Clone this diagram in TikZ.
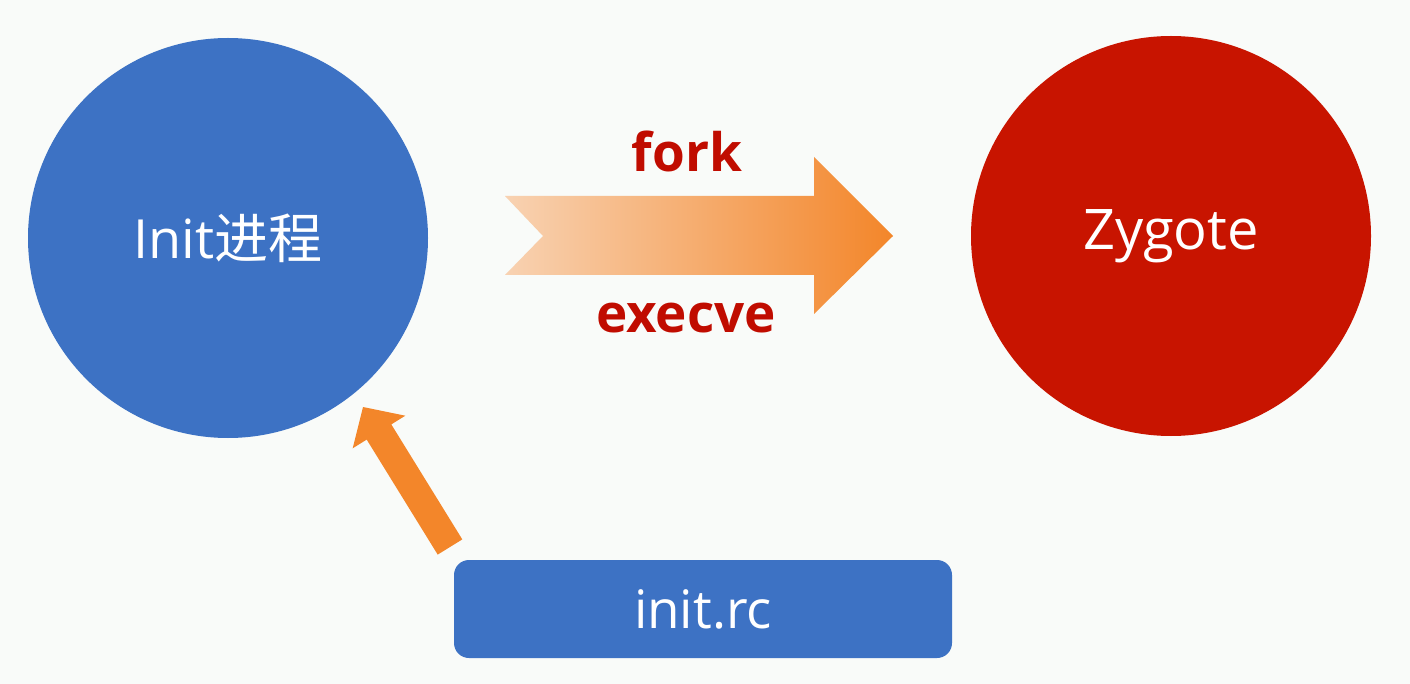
\documentclass[tikz,border=0pt]{standalone}
\usepackage{fontspec}
\setmainfont{Open Sans}
\newfontfamily\cjk{Noto Sans CJK SC}
\definecolor{bgc}{RGB}{249,251,249}
\definecolor{blueC}{RGB}{61,114,196}
\definecolor{redC}{RGB}{200,20,0}
\definecolor{textred}{RGB}{192,12,0}
\definecolor{orangeC}{RGB}{243,134,42}
\definecolor{peach}{RGB}{248,210,178}
\begin{document}
\begin{tikzpicture}[x=1pt,y=-1pt,
  bubble/.style={circle,inner sep=0pt,minimum size=400pt,text=white},
  label/.style={text=textred,font=\fontsize{53}{63}\selectfont\bfseries},
  box/.style={rectangle,rounded corners=15pt,fill=blueC,text=white,minimum width=498pt,minimum height=98pt,inner sep=0pt,font=\fontsize{53}{63}\selectfont}]
\fill[bgc] (0,0) rectangle (1410,684);
\useasboundingbox (0,0) rectangle (1410,684);
\node[bubble,fill=blueC,font=\fontsize{54}{64}\selectfont] (init) at (228,238) {Init{\cjk 进程}};
\node[bubble,fill=redC,font=\fontsize{56}{66}\selectfont] (zyg) at (1171,236) {Zygote};
\node[box] (rc) at (703,609) {init.rc};
% big gradient arrow
\shade[left color=peach,right color=orangeC,shading=axis]
  (505,196) -- (814,196) -- (814,157) -- (893,236) -- (814,314) -- (814,275) -- (505,275) -- (543,236) -- cycle;
\node[label] (fork) at (687,151) {fork};
\node[label] (exec) at (686,318) {execve};
% small arrow from init.rc to init
\fill[orangeC] (462.3,539.4) -- (391.3,424.4) -- (405.3,415.7) -- (363,407) -- (352.7,448.3) -- (366.7,439.6) -- (437.7,554.6) -- cycle;
\end{tikzpicture}
\end{document}
